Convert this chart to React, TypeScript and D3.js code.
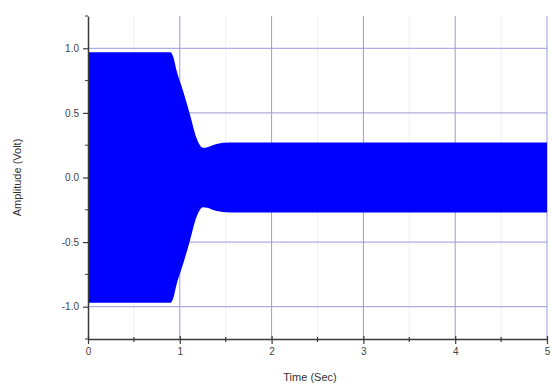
import React, { useEffect, useRef } from 'react';
import * as d3 from 'd3';

// envelope of the high-frequency signal (peak amplitude vs time)
const timeSec = [0, 0.9, 0.93, 0.964, 1.036, 1.11, 1.18, 1.22, 1.25, 1.3, 1.4, 1.54, 1.7, 5];
const ampVolt = [0.97, 0.97, 0.93, 0.83, 0.67, 0.49, 0.31, 0.25, 0.23, 0.235, 0.26, 0.27, 0.27, 0.27];

const xTicks = [0, 1, 2, 3, 4, 5];
const xMinor = [0.5, 1.5, 2.5, 3.5, 4.5];
const yTicks = [-1.0, -0.5, 0.0, 0.5, 1.0];
const yLabels = ['-1.0', '-0.5', '0.0', '0.5', '1.0'];
const yMinor = [-1.25, -0.75, -0.25, 0.25, 0.75, 1.25];

const W = 552;
const H = 387;

export default function App() {
  const svgRef = useRef<SVGSVGElement>(null);

  useEffect(() => {
    if (!svgRef.current) return;
    const svg = d3.select(svgRef.current);
    svg.selectAll('*').remove();

    const x = d3.scaleLinear().domain([0, 5]).range([88, 547]);
    const y = d3.scaleLinear().domain([-1.25, 1.25]).range([339, 16]);
    const font = '"Liberation Sans", Arial, sans-serif';
    const axisColor = '#3a3a3a';

    svg.append('rect').attr('width', W).attr('height', H).attr('fill', '#fff');

    // faint minor grid
    const g = svg.append('g');
    g.selectAll('line.mx').data(xMinor).enter().append('line')
      .attr('x1', d => x(d)).attr('x2', d => x(d)).attr('y1', y(1.25)).attr('y2', y(-1.25))
      .attr('stroke', '#efeff7').attr('stroke-width', 1);

    // major grid
    g.selectAll('line.gx').data(xTicks.slice(1)).enter().append('line')
      .attr('x1', d => x(d)).attr('x2', d => x(d)).attr('y1', y(1.25)).attr('y2', y(-1.25))
      .attr('stroke', '#9a9ade').attr('stroke-width', 1);
    g.selectAll('line.gy').data(yTicks).enter().append('line')
      .attr('x1', x(0)).attr('x2', x(5)).attr('y1', d => y(d)).attr('y2', d => y(d))
      .attr('stroke', '#9a9ade').attr('stroke-width', 1);

    // signal envelope
    const pts = timeSec.map((t, i) => ({ t, a: ampVolt[i] }));
    const area = d3.area<{ t: number; a: number }>()
      .x(d => x(d.t)).y0(d => y(-d.a)).y1(d => y(d.a))
      .curve(d3.curveMonotoneX);
    svg.append('path').datum(pts).attr('d', area).attr('fill', '#0000ff');

    // left axis
    const left = svg.append('g').attr('transform', `translate(${x(0)},0)`);
    left.call(d3.axisLeft(y).tickValues(yTicks)
      .tickFormat((d, i) => yLabels[i]).tickSize(5).tickSizeOuter(0));
    left.append('g').selectAll('line').data(yMinor).enter().append('line')
      .attr('x1', -3).attr('x2', 0).attr('y1', d => y(d)).attr('y2', d => y(d))
      .attr('stroke', axisColor);
    left.select('.domain').attr('stroke', axisColor).attr('stroke-width', 1.5);
    left.selectAll('.tick line').attr('stroke', axisColor).attr('stroke-width', 1.2);
    left.selectAll('.tick text').attr('fill', '#444').style('font-family', font).style('font-size', '10px').attr('x', -9);

    // bottom axis
    const bottom = svg.append('g').attr('transform', `translate(0,${y(-1.25)})`);
    bottom.call(d3.axisBottom(x).tickValues(xTicks).tickFormat(d3.format('d')).tickSize(5).tickSizeOuter(0));
    bottom.append('g').selectAll('line').data(xMinor).enter().append('line')
      .attr('x1', d => x(d)).attr('x2', d => x(d)).attr('y1', -2).attr('y2', 3)
      .attr('stroke', axisColor).attr('stroke-width', 1.2);
    bottom.select('.domain').attr('stroke', axisColor).attr('stroke-width', 1.5);
    bottom.selectAll('.tick line').attr('stroke', axisColor).attr('stroke-width', 1.2).attr('y1', -3);
    bottom.selectAll('.tick text').attr('fill', '#444').style('font-family', font).style('font-size', '10px').attr('y', 9);

    // axis titles
    svg.append('text').attr('x', 310).attr('y', 381).attr('text-anchor', 'middle')
      .attr('fill', '#333').style('font-family', font).style('font-size', '11px').text('Time (Sec)');
    svg.append('text').attr('transform', `translate(21,${y(0)}) rotate(-90)`).attr('text-anchor', 'middle')
      .attr('fill', '#333').style('font-family', font).style('font-size', '11px').text('Amplitude (Volt)');
  }, []);

  return (
    <svg ref={svgRef} width={W} height={H} viewBox={`0 0 ${W} ${H}`}
      style={{ position: 'absolute', left: 0, top: 0 }} />
  );
}
